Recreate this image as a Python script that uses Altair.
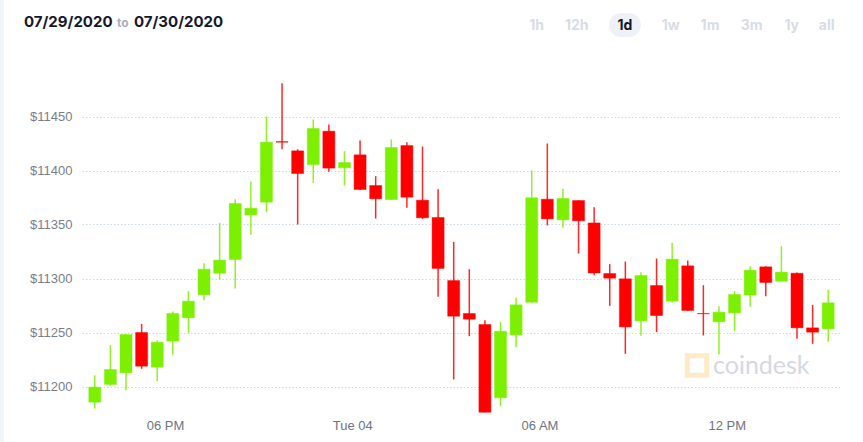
import altair as alt
import pandas as pd

# 30-minute candles (local time), 48 periods
times = pd.date_range("2020-08-03 15:45", periods=48, freq="30min")

opens = [11185.5, 11201.9, 11212.7, 11250.0, 11217.9, 11242.0, 11263.6, 11284.9,
         11304.9, 11317.6, 11358.9, 11370.7, 11426.8, 11418.2, 11405.5, 11436.4,
         11402.5, 11414.5, 11386.1, 11373.1, 11423.1, 11372.5, 11356.5, 11298.1,
         11267.6, 11257.4, 11189.5, 11247.8, 11278.1, 11373.4, 11354.3, 11372.2,
         11351.5, 11304.6, 11299.7, 11260.8, 11293.5, 11279.0, 11311.7, 11267.6,
         11259.9, 11268.2, 11284.6, 11310.8, 11297.5, 11304.9, 11254.3, 11253.4]
highs = [11210.5, 11238.3, 11248.5, 11258.0, 11242.9, 11269.4, 11288.3, 11314.2,
         11351.5, 11373.4, 11389.8, 11450.0, 11480.9, 11419.7, 11447.2, 11442.6,
         11417.9, 11427.8, 11394.8, 11428.7, 11426.2, 11422.2, 11382.7, 11333.9,
         11308.6, 11261.4, 11259.6, 11282.1, 11400.0, 11425.0, 11383.0, 11372.5,
         11366.0, 11313.3, 11315.7, 11305.9, 11318.5, 11333.0, 11316.7, 11293.8,
         11274.4, 11288.3, 11311.4, 11311.4, 11329.9, 11305.6, 11275.6, 11289.5]
lows = [11179.6, 11200.9, 11196.6, 11216.4, 11204.9, 11229.3, 11249.7, 11279.9,
        11299.1, 11290.7, 11340.4, 11361.4, 11419.7, 11350.0, 11388.6, 11398.8,
        11386.1, 11382.0, 11355.5, 11373.0, 11365.4, 11355.2, 11283.0, 11206.5,
        11246.6, 11176.0, 11181.8, 11236.4, 11277.5, 11349.1, 11346.9, 11323.1,
        11303.1, 11274.7, 11230.2, 11246.9, 11250.3, 11277.5, 11269.8, 11247.2,
        11229.6, 11251.2, 11273.8, 11283.6, 11296.9, 11244.1, 11239.5, 11241.4]
closes = [11199.4, 11215.7, 11248.1, 11218.8, 11241.0, 11267.6, 11279.0, 11308.6,
          11317.0, 11369.4, 11365.1, 11426.2, 11426.2, 11397.2, 11438.9, 11402.2,
          11407.4, 11382.4, 11373.8, 11421.3, 11375.3, 11356.2, 11309.3, 11265.1,
          11262.3, 11176.2, 11251.2, 11275.6, 11374.7, 11355.2, 11374.1, 11353.4,
          11305.2, 11300.3, 11255.2, 11302.8, 11265.7, 11317.9, 11270.4, 11267.3,
          11268.8, 11285.2, 11307.7, 11296.3, 11305.9, 11254.3, 11250.3, 11277.5]

y_ticks = [11200, 11250, 11300, 11350, 11400, 11450]
ranges = ["1h", "12h", "1d", "1w", "1m", "3m", "1y", "all"]

GREEN = "#7cf000"
RED = "#ff0000"
FONT = "Liberation Sans"

df = pd.DataFrame({"time": times, "open": opens, "high": highs,
                   "low": lows, "close": closes})
df["dir"] = ["up" if c >= o else "down" for o, c in zip(opens, closes)]

x_scale = alt.Scale(domain=[alt.DateTime(year=2020, month=8, date=3, hours=15, minutes=30),
                            alt.DateTime(year=2020, month=8, date=4, hours=15, minutes=30)])
x_axis = alt.Axis(
    title=None, grid=False, ticks=False, domain=False,
    values=[alt.DateTime(year=2020, month=8, date=3, hours=18),
            alt.DateTime(year=2020, month=8, date=4, hours=0),
            alt.DateTime(year=2020, month=8, date=4, hours=6),
            alt.DateTime(year=2020, month=8, date=4, hours=12)],
    labelExpr="hours(datum.value) == 0 ? timeFormat(datum.value, '%a %d') : timeFormat(datum.value, '%I %p')",
    labelFont=FONT, labelFontSize=13, labelColor="#6f7482", labelPadding=6,
)
y_scale = alt.Scale(domain=[11175, 11487.5], zero=False, nice=False)
y_axis = alt.Axis(
    title=None, values=y_ticks, format="$d", ticks=False, domain=False,
    grid=True, gridColor="#ccd6f2", gridDash=[1.5, 2], gridWidth=1,
    labelFont=FONT, labelFontSize=13, labelColor="#7a7e8a", labelPadding=10,
)
color = alt.Color("dir:N", scale=alt.Scale(domain=["up", "down"], range=[GREEN, RED]), legend=None)

base = alt.Chart(df)
wicks = base.mark_rule(strokeWidth=1.5, opacity=0.85).encode(
    x=alt.X("time:T", scale=x_scale, axis=x_axis),
    y=alt.Y("low:Q", scale=y_scale, axis=y_axis),
    y2="high:Q",
    color=color,
)
bodies = base.mark_bar(size=12, strokeWidth=1, strokeOpacity=0.45).encode(
    x=alt.X("time:T"),
    y=alt.Y("open:Q"),
    y2="close:Q",
    color=color,
    stroke=alt.Stroke("dir:N", scale=alt.Scale(domain=["up", "down"], range=[GREEN, RED]), legend=None),
)

one = alt.Data(values=[{}])

# header date range
hdr1 = alt.Chart(one).mark_text(text="07/29/2020", font="Inter", fontWeight="bold", fontSize=15,
                                color="#14182b", align="left", baseline="middle").encode(
    x=alt.value(-58), y=alt.value(-54))
hdr_to = alt.Chart(one).mark_text(text="to", font="Inter", fontSize=12, fontWeight="bold",
                                  color="#a9adbd", align="left", baseline="middle").encode(
    x=alt.value(35), y=alt.value(-53))
hdr2 = alt.Chart(one).mark_text(text="07/30/2020", font="Inter", fontWeight="bold", fontSize=15,
                                color="#14182b", align="left", baseline="middle").encode(
    x=alt.value(52), y=alt.value(-54))

# range buttons
btn_x = [536.7, 576.7, 625, 670.7, 710, 751.7, 791.7, 826.7]
pill = alt.Chart(one).mark_rect(cornerRadius=12, color="#eef2f8").encode(
    x=alt.value(609 - 82), x2=alt.value(641 - 82), y=alt.value(13 - 76), y2=alt.value(37 - 76))
btn_layers = []
for lab, bx in zip(ranges, btn_x):
    btn_layers.append(alt.Chart(one).mark_text(
        text=lab, font="Inter", fontWeight="bold", fontSize=14,
        color="#14182b" if lab == "1d" else "#d9dce6", align="center", baseline="middle").encode(
        x=alt.value(bx - 82), y=alt.value(26 - 76)))

# left strip
strip = alt.Chart(one).mark_rect(color="#f1f4f9").encode(
    x=alt.value(-82), x2=alt.value(-78), y=alt.value(-76), y2=alt.value(366))

# watermark
wm_logo = alt.Chart(one).mark_point(shape="square", size=380, filled=False, strokeWidth=5,
                                    color="#fdebc6", opacity=1).encode(
    x=alt.value(697 - 82), y=alt.value(365.5 - 76))
wm_text = alt.Chart(one).mark_text(text="coindesk", font="Lato", fontSize=25, color="#d6d8df",
                                   align="left", baseline="middle").encode(
    x=alt.value(713 - 82), y=alt.value(366 - 76))

chart = alt.layer(
    strip, wm_logo, wm_text, wicks, bodies, hdr1, hdr_to, hdr2, pill, *btn_layers
).properties(
    width=759, height=337.5,
    padding={"left": 82, "top": 76, "right": 22, "bottom": 28.5},
    autosize=alt.AutoSizeParams(type="none"),
    background="white",
).configure_view(stroke=None)

chart.save("out.html", embed_options={"renderer": "svg", "actions": False})
